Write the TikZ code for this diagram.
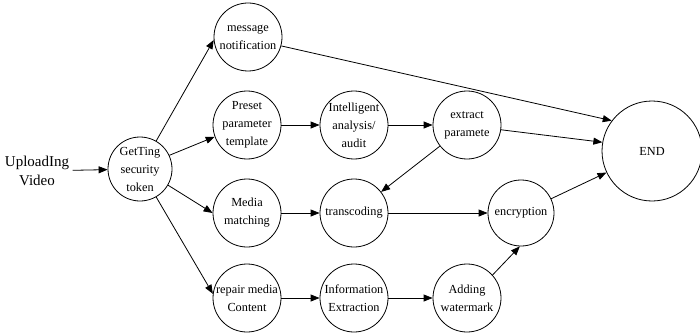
\documentclass[tikz,border=0pt]{standalone}
\usepackage{fontspec}
\setmainfont{Liberation Serif}
\usetikzlibrary{arrows.meta}
\begin{document}
\begin{tikzpicture}[x=1pt,y=-1pt,
  st/.style={circle,draw,line width=0.8pt,minimum size=68pt,inner sep=0pt,align=center,font=\fontsize{12.3}{18}\selectfont},
  ar/.style={-{Triangle[length=9pt,width=7pt]},line width=0.8pt}]
\useasboundingbox (0,0) rectangle (700,334);
\node[font=\fontsize{15}{19}\selectfont,align=center] (up) at (37,171) {UploadIng\\Video};
\node[st,minimum size=64pt] (get) at (140,169) {GetTing\\security\\token};
\node[st] (msg) at (248,37) {message\\notification};
\node[st] (pre) at (247,125) {Preset\\parameter\\template};
\node[st] (int) at (354,125) {Intelligent\\analysis/\\audit};
\node[st] (ext) at (467,125) {extract\\paramete};
\node[st,minimum size=100pt] (end) at (652,151) {END};
\node[st] (med) at (247,213) {Media\\matching};
\node[st] (tra) at (354,213) {transcoding};
\node[st,minimum size=66pt] (enc) at (521,213) {encryption};
\node[st] (rep) at (247,298) {repair media\\Content};
\node[st] (inf) at (354,298) {Information\\Extraction};
\node[st] (add) at (467,298) {Adding\\watermark};
\draw[ar] (up) -- (get);
\draw[ar] (get.60) -- (msg.185);
\draw[ar] (get.25) -- (pre.200);
\draw[ar] (get.-30) -- (med.west);
\draw[ar] (get.-60) -- (rep.173);
\draw[ar] (msg.-15) -- (end.143);
\draw[ar] (pre) -- (int);
\draw[ar] (int) -- (ext);
\draw[ar] (ext.-8) -- (end.170);
\draw[ar] (ext) -- (tra);
\draw[ar] (med) -- (tra);
\draw[ar] (tra) -- (enc);
\draw[ar] (enc) -- (end);
\draw[ar] (rep) -- (inf);
\draw[ar] (inf) -- (add);
\draw[ar] (add.42) -- (enc.268);
\end{tikzpicture}
\end{document}
